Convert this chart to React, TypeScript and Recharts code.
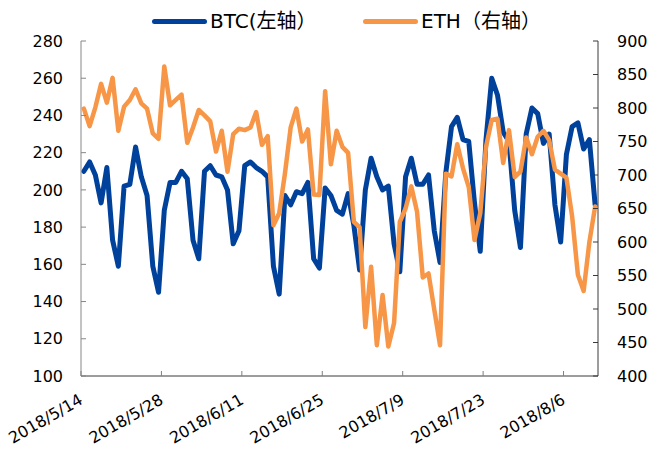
import { LineChart, Line, XAxis, YAxis } from 'recharts';

// 日期（类目）
const dates = [
  '2018/5/14', '2018/5/15', '2018/5/16', '2018/5/17', '2018/5/18', '2018/5/19', '2018/5/20',
  '2018/5/21', '2018/5/22', '2018/5/23', '2018/5/24', '2018/5/25', '2018/5/26', '2018/5/27',
  '2018/5/28', '2018/5/29', '2018/5/30', '2018/5/31', '2018/6/1', '2018/6/2', '2018/6/3',
  '2018/6/4', '2018/6/5', '2018/6/6', '2018/6/7', '2018/6/8', '2018/6/9', '2018/6/10',
  '2018/6/11', '2018/6/12', '2018/6/13', '2018/6/14', '2018/6/15', '2018/6/16', '2018/6/17',
  '2018/6/18', '2018/6/19', '2018/6/20', '2018/6/21', '2018/6/22', '2018/6/23', '2018/6/24',
  '2018/6/25', '2018/6/26', '2018/6/27', '2018/6/28', '2018/6/29', '2018/6/30', '2018/7/1',
  '2018/7/2', '2018/7/3', '2018/7/4', '2018/7/5', '2018/7/6', '2018/7/7', '2018/7/8',
  '2018/7/9', '2018/7/10', '2018/7/11', '2018/7/12', '2018/7/13', '2018/7/14', '2018/7/15',
  '2018/7/16', '2018/7/17', '2018/7/18', '2018/7/19', '2018/7/20', '2018/7/21', '2018/7/22',
  '2018/7/23', '2018/7/24', '2018/7/25', '2018/7/26', '2018/7/27', '2018/7/28', '2018/7/29',
  '2018/7/30', '2018/7/31', '2018/8/1', '2018/8/2', '2018/8/3', '2018/8/4', '2018/8/5',
  '2018/8/6', '2018/8/7', '2018/8/8', '2018/8/9', '2018/8/10', '2018/8/11',
];

// BTC（左轴）
const btc = [
  210, 215, 208, 193, 212, 173, 159, 202, 203, 223, 207, 197, 159, 145,
  189, 204, 204, 210, 206, 173, 163, 210, 213, 208, 207, 200, 171, 178,
  213, 215, 212, 210, 207, 159, 144, 197, 192, 199, 198, 204, 163, 158,
  201, 197, 189, 187, 198, 181, 157, 200, 217, 207, 200, 202, 171, 156,
  207, 217, 203, 203, 208, 178, 161, 209, 234, 239, 227, 226, 193, 167,
  227, 260, 251, 231, 226, 189, 169, 230, 244, 241, 225, 230, 192, 172,
  219, 234, 236, 222, 227, 192,
];

// ETH（右轴）
const eth = [
  799, 773, 801, 836, 808, 845, 766, 802, 812, 828, 807, 799, 762, 754,
  862, 804, 812, 820, 748, 771, 797, 789, 780, 735, 766, 705, 761, 769,
  767, 771, 794, 745, 758, 625, 643, 702, 771, 799, 750, 768, 671, 670,
  825, 716, 766, 742, 733, 630, 622, 473, 563, 446, 521, 444, 479, 630,
  650, 683, 645, 547, 553, 499, 446, 702, 698, 746, 710, 682, 603, 643,
  742, 782, 784, 718, 767, 697, 705, 756, 731, 757, 766, 752, 708, 702,
  696, 638, 551, 527, 600, 653,
];

const btcTicks = [100, 120, 140, 160, 180, 200, 220, 240, 260, 280];
const ethTicks = [400, 450, 500, 550, 600, 650, 700, 750, 800, 850, 900];

const series = [
  { key: 'btc', name: 'BTC(左轴）', color: '#00419b', width: 5, legendX: 152 },
  { key: 'eth', name: 'ETH（右轴）', color: '#f79646', width: 4.5, legendX: 363 },
];

const W = 649;
const H = 450;
const LEFT_W = 81;
const RIGHT_W = 51;
const HALF_BAND = (W - LEFT_W - RIGHT_W) / dates.length / 2;
const FONT = '"DejaVu Sans", "Noto Sans CJK SC", sans-serif';

const data = dates.map((d, i) => ({ date: d, btc: btc[i], eth: eth[i] }));

// 刻度线画在类目边界上（朝内），标签斜放在类目中心
function DateTick(props: any) {
  const { x, y, payload } = props;
  const bx = x - HALF_BAND;
  const ty = y + 27;
  return (
    <g>
      <line x1={bx} x2={bx} y1={y - 5} y2={y} stroke="#7f7f7f" strokeWidth={1} />
      <text
        x={x}
        y={ty}
        transform={`rotate(-30, ${x}, ${ty})`}
        textAnchor="end"
        fontSize={16}
        fill="#000"
      >
        {payload.value}
      </text>
    </g>
  );
}

export default function App() {
  return (
    <div style={{ position: 'absolute', left: 0, top: 0, width: W, height: H, background: '#fff', fontFamily: FONT }}>
      {series.map((s) => (
        <div
          key={s.key}
          style={{ position: 'absolute', left: s.legendX, top: 9, height: 25, display: 'flex', alignItems: 'center' }}
        >
          <span style={{ width: 55, height: 5, borderRadius: 3, background: s.color, display: 'inline-block' }} />
          <span style={{ marginLeft: 3, fontSize: 20, lineHeight: '25px', color: '#000' }}>{s.name}</span>
        </div>
      ))}
      <LineChart width={W} height={H} data={data} margin={{ top: 41, right: 0, bottom: 0, left: 0 }}>
        <XAxis
          dataKey="date"
          scale="band"
          interval={13}
          height={74}
          tickLine={false}
          tickSize={0}
          tickMargin={0}
          axisLine={{ stroke: '#3a3a3a' }}
          tick={(p: any) => <DateTick {...p} />}
        />
        <YAxis
          yAxisId="btc"
          orientation="left"
          domain={[100, 280]}
          ticks={btcTicks}
          interval={0}
          width={LEFT_W}
          tickSize={-5}
          tickMargin={23}
          axisLine={{ stroke: '#868686' }}
          tickLine={{ stroke: '#868686' }}
          tick={{ fontSize: 16, fill: '#000' }}
        />
        <YAxis
          yAxisId="eth"
          orientation="right"
          domain={[400, 900]}
          ticks={ethTicks}
          interval={0}
          width={RIGHT_W}
          tickSize={-5}
          tickMargin={24}
          axisLine={{ stroke: '#3a3a3a' }}
          tickLine={{ stroke: '#3a3a3a' }}
          tick={{ fontSize: 16, fill: '#000' }}
        />
        {series.map((s) => (
          <Line
            key={s.key}
            yAxisId={s.key}
            dataKey={s.key}
            name={s.name}
            type="linear"
            stroke={s.color}
            strokeWidth={s.width}
            strokeLinejoin="round"
            strokeLinecap="round"
            dot={false}
            activeDot={false}
            isAnimationActive={false}
          />
        ))}
      </LineChart>
    </div>
  );
}
